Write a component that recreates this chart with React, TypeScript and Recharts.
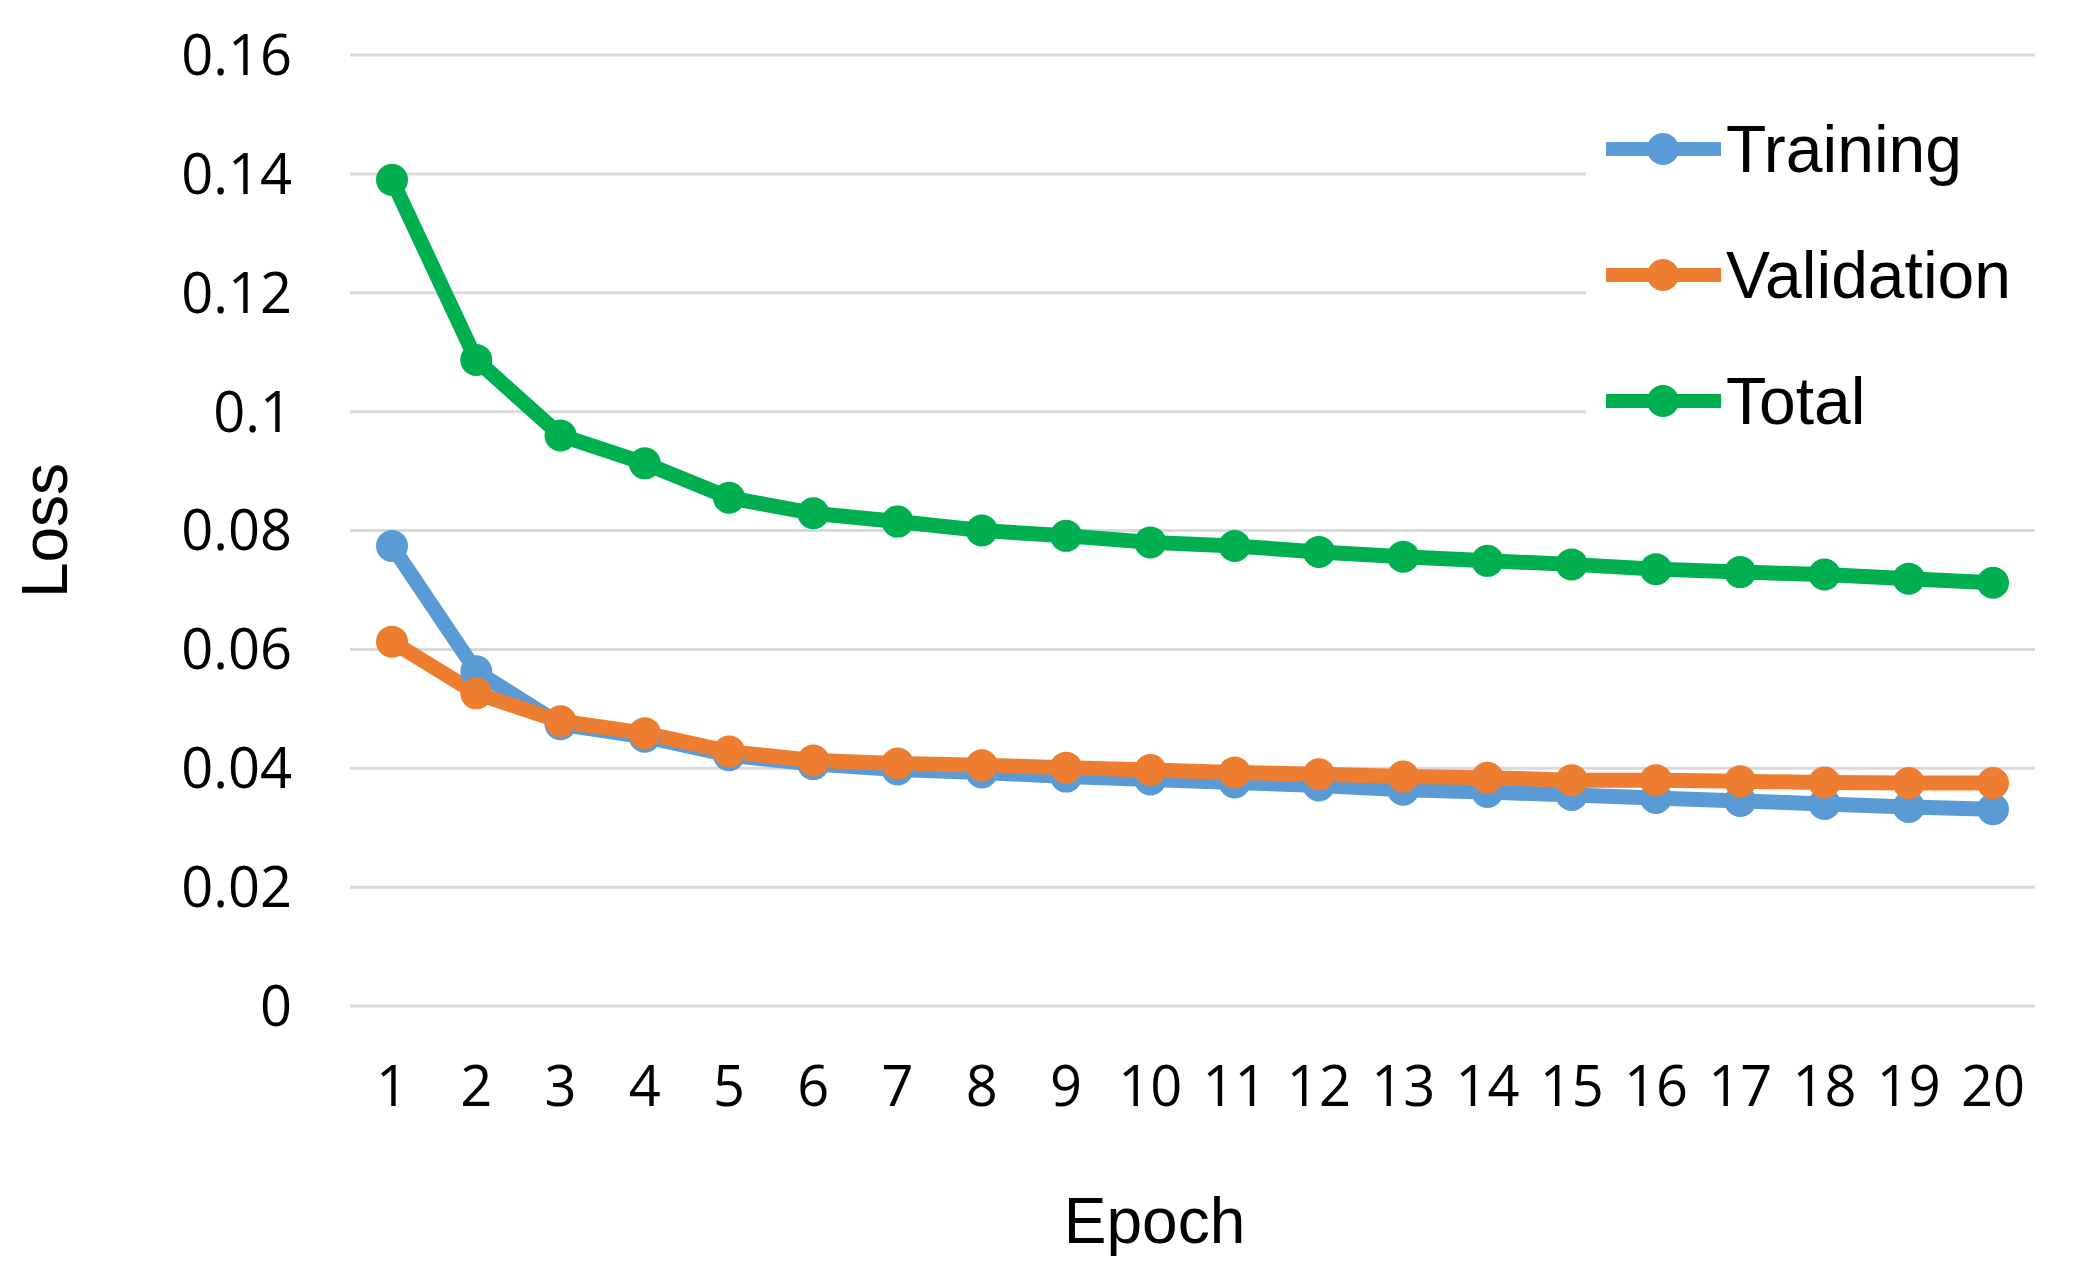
import React from 'react';
import { LineChart, Line, XAxis, YAxis, CartesianGrid, Legend } from 'recharts';

// loss per epoch
const epochs = [1, 2, 3, 4, 5, 6, 7, 8, 9, 10, 11, 12, 13, 14, 15, 16, 17, 18, 19, 20];
const training = [
  0.0774, 0.0563, 0.0474, 0.0453, 0.0422, 0.0407, 0.0398, 0.0393, 0.0386, 0.0381,
  0.0376, 0.0371, 0.0364, 0.0360, 0.0355, 0.0350, 0.0345, 0.0340, 0.0335, 0.0331,
];
const validation = [
  0.0613, 0.0526, 0.0479, 0.0459, 0.0428, 0.0413, 0.0408, 0.0405, 0.0401, 0.0397,
  0.0393, 0.0390, 0.0386, 0.0384, 0.0380, 0.0380, 0.0378, 0.0376, 0.0375, 0.0375,
];
const total = [
  0.1390, 0.1087, 0.0960, 0.0913, 0.0855, 0.0829, 0.0815, 0.0800, 0.0791, 0.0780,
  0.0774, 0.0764, 0.0756, 0.0749, 0.0743, 0.0735, 0.0730, 0.0726, 0.0719, 0.0712,
];
const yTicks = [0, 0.02, 0.04, 0.06, 0.08, 0.1, 0.12, 0.14, 0.16];

const SERIES = [
  { key: 'training', name: 'Training', color: '#5B9BD5' },
  { key: 'validation', name: 'Validation', color: '#ED7D31' },
  { key: 'total', name: 'Total', color: '#00B050' },
];

const data = epochs.map((epoch, i) => ({
  epoch,
  training: training[i],
  validation: validation[i],
  total: total[i],
}));

const TICK_FONT = '"Open Sans", sans-serif';
const TITLE_FONT = '"Liberation Sans", Arial, sans-serif';

const EpochLabel = ({ viewBox }: any) => {
  const cx = viewBox.x + viewBox.width / 2 - 38;
  return (
    <text x={cx} y={viewBox.y + 237} textAnchor="middle" fontFamily={TITLE_FONT} fontSize={64} fill="#000">
      Epoch
    </text>
  );
};

const LossLabel = ({ viewBox }: any) => {
  const cx = viewBox.x + 37;
  const cy = viewBox.y + viewBox.height / 2;
  return (
    <text
      x={cx}
      y={cy}
      transform={`rotate(-90 ${cx} ${cy})`}
      textAnchor="middle"
      dominantBaseline="central"
      fontFamily={TITLE_FONT}
      fontSize={64}
      fill="#000"
    >
      Loss
    </text>
  );
};

// keep the series order (Recharts sorts legend items by name otherwise)
const LegendBox = ({ payload }: any) => {
  const items = SERIES.map((s) => (payload || []).find((p: any) => p.value === s.name)).filter(Boolean);
  return (
    <div style={{ background: '#fff', paddingLeft: 20 }}>
      {items.map((entry: any) => (
        <div key={entry.value} style={{ display: 'flex', alignItems: 'center', height: 126 }}>
          <svg width={115} height={40} style={{ display: 'block' }}>
            <line x1={0} y1={20} x2={115} y2={20} stroke={entry.color} strokeWidth={14} strokeLinecap="round" />
            <circle cx={57} cy={20} r={16} fill={entry.color} />
          </svg>
          <span style={{ marginLeft: 5, fontFamily: TITLE_FONT, fontSize: 66, color: '#000', lineHeight: 1 }}>
            {entry.value}
          </span>
        </div>
      ))}
    </div>
  );
};

export default function App() {
  return (
    <div style={{ width: 2060, height: 1262, background: '#fff' }}>
      <LineChart width={2060} height={1262} data={data} margin={{ top: 47, right: 33, bottom: 0, left: 0 }}>
        <CartesianGrid vertical={false} stroke="#d9d9d9" strokeWidth={3} />
        <XAxis
          dataKey="epoch"
          height={264}
          padding={{ left: 42, right: 42 }}
          tickLine={false}
          axisLine={false}
          tickSize={0}
          tickMargin={60}
          interval={0}
          tick={{ fill: '#000', fontSize: 56, fontFamily: TICK_FONT }}
          label={EpochLabel}
        />
        <YAxis
          width={342}
          domain={[0, 0.16]}
          ticks={yTicks}
          tickFormatter={(v: number) => String(v)}
          tickLine={false}
          axisLine={false}
          tickSize={0}
          tickMargin={58}
          tick={{ fill: '#000', fontSize: 56, fontFamily: TICK_FONT }}
          label={LossLabel}
        />
        <Legend
          layout="vertical"
          align="center"
          verticalAlign="middle"
          content={LegendBox}
          wrapperStyle={{ left: 1578, top: 78, width: 450, right: 'auto', bottom: 'auto' }}
        />
        {SERIES.map((s) => (
          <Line
            key={s.key}
            type="linear"
            dataKey={s.key}
            name={s.name}
            stroke={s.color}
            strokeWidth={15}
            dot={{ r: 16, fill: s.color, stroke: s.color, strokeWidth: 0 }}
            activeDot={false}
            isAnimationActive={false}
          />
        ))}
      </LineChart>
    </div>
  );
}
